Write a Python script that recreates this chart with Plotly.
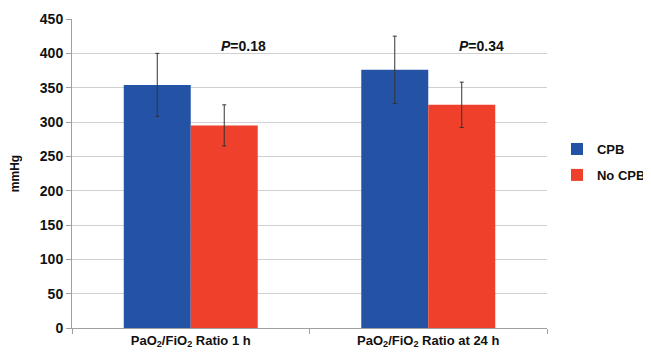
import plotly.graph_objects as go

categories = ["PaO<sub>2</sub>/FiO<sub>2</sub> Ratio 1 h", "PaO<sub>2</sub>/FiO<sub>2</sub> Ratio at 24 h"]
cpb_values = [354, 376]
cpb_err = [46, 49]
nocpb_values = [295, 325]
nocpb_err = [30, 33]
p_labels = ["<i>P</i>=0.18", "<i>P</i>=0.34"]
p_y = [411, 411]
y_ticks = [0, 50, 100, 150, 200, 250, 300, 350, 400, 450]

font_family = "Liberation Sans, Arial, sans-serif"

fig = go.Figure()
fig.add_trace(go.Bar(
    name="CPB", x=categories, y=cpb_values, legendgroup="cpb",
    marker=dict(color="#2453A6", line=dict(width=0)),
    error_y=dict(type="data", array=cpb_err, color="#333333", thickness=1, width=2),
))
fig.add_trace(go.Bar(
    name="No CPB", x=categories, y=nocpb_values, legendgroup="nocpb",
    marker=dict(color="#EE402B", line=dict(width=0)),
    error_y=dict(type="data", array=nocpb_err, color="#333333", thickness=1, width=2),
))

for cat, lab, yy in zip(categories, p_labels, p_y):
    fig.add_annotation(x=cat, y=yy, text=lab, showarrow=False,
                       xshift=53, font=dict(size=14, color="#111111", family=font_family,
                                            weight="bold"))

fig.update_layout(
    width=643, height=350,
    margin=dict(l=64, r=104, t=11, b=30, autoexpand=False),
    paper_bgcolor="white", plot_bgcolor="white",
    barmode="group", bargap=0.436, bargroupgap=0,
    font=dict(family=font_family, color="#111111"),
    legend=dict(x=1.021, y=0.537, xanchor="left", yanchor="middle",
                font=dict(size=13, color="#111111", weight="bold"), tracegroupgap=6,
                itemwidth=30),
    showlegend=True,
)
fig.update_yaxes(
    range=[0, 450], tickvals=y_ticks, showgrid=True, gridcolor="#D0D0D0", gridwidth=1,
    showline=True, linecolor="#A0A0A0", linewidth=1,
    ticks="outside", ticklen=5, tickcolor="#A0A0A0", automargin=False,
    tickfont=dict(size=14, family=font_family, weight="bold"),
    title=dict(text="mmHg", font=dict(size=12, weight="bold"), standoff=20),
    zeroline=False,
)
fig.update_xaxes(
    showline=True, linecolor="#A0A0A0", linewidth=1, automargin=False,
    ticks="outside", ticklen=5, tickcolor="#A0A0A0", tickson="boundaries",
    tickfont=dict(size=13, family=font_family, weight="bold"),
)

fig.write_html("out.html")
